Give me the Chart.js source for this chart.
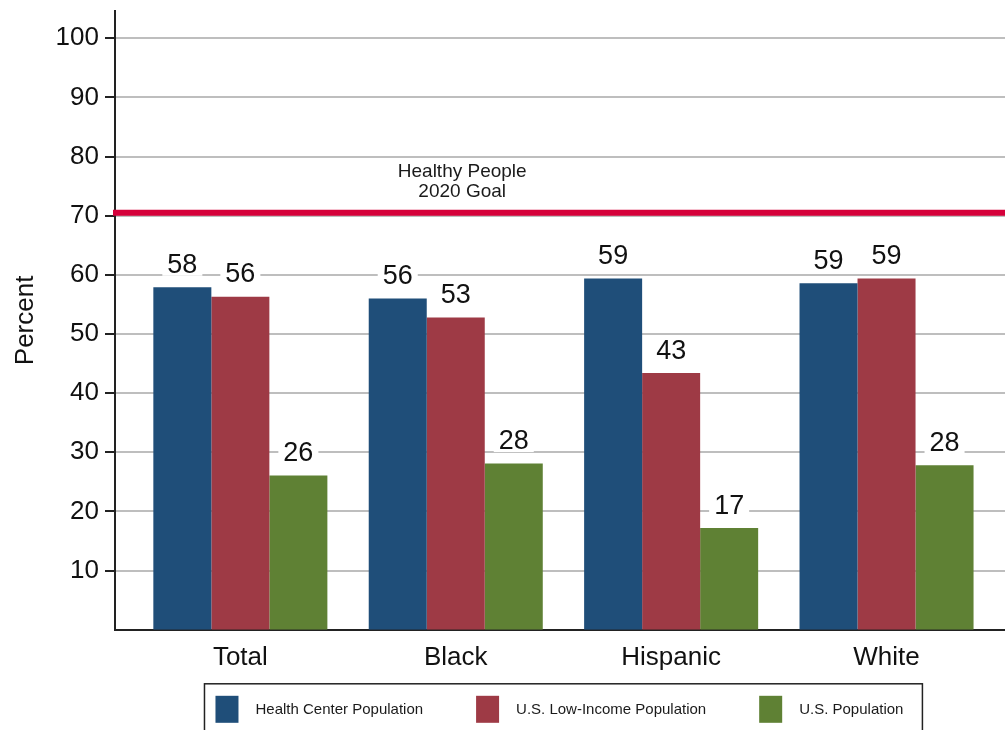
<!DOCTYPE html>
<html>
<head>
<meta charset="utf-8">
<script src="https://cdn.jsdelivr.net/npm/chart.js@4.4.1/dist/chart.umd.min.js"></script>
<style>
  html, body { margin: 0; padding: 0; background: #fff; overflow: hidden; }
</style>
</head>
<body>
<canvas id="chart" width="1005" height="730"></canvas>
<script>
// data
const categories = ['Total', 'Black', 'Hispanic', 'White'];
const seriesNames = ['Health Center Population', 'U.S. Low-Income Population', 'U.S. Population'];
const healthCenter = [57.9, 56.0, 59.4, 58.6];
const lowIncome = [56.3, 52.8, 43.4, 59.4];
const usPopulation = [26.1, 28.1, 17.2, 27.8];
const yTicks = [10, 20, 30, 40, 50, 60, 70, 80, 90, 100];
const goalValue = 70.5;
const goalText = ['Healthy People', '2020 Goal'];

const colors = ['#1f4e79', '#9e3a45', '#5f8134'];
const fontFamily = "'Liberation Sans', Arial, sans-serif";
Chart.defaults.font.family = fontFamily;

// goal line + label, value labels above the bars
const overlays = {
  id: 'overlays',
  afterDatasetsDraw(chart) {
    const ctx = chart.ctx;
    const area = chart.chartArea;
    const x = chart.scales.x;
    const y = chart.scales.y;

    ctx.save();
    const gy = y.getPixelForValue(goalValue);
    ctx.strokeStyle = '#d5003a';
    ctx.lineWidth = 6;
    ctx.beginPath();
    ctx.moveTo(area.left - 2, gy);
    ctx.lineTo(area.right, gy);
    ctx.stroke();

    ctx.fillStyle = '#1a1a1a';
    ctx.font = '19px ' + fontFamily;
    ctx.textAlign = 'center';
    ctx.textBaseline = 'alphabetic';
    const gx = x.getPixelForValue(1.03);
    ctx.fillText(goalText[0], gx, gy - 36);
    ctx.fillText(goalText[1], gx, gy - 16);

    ctx.font = '27px ' + fontFamily;
    chart.data.datasets.forEach((ds, di) => {
      const meta = chart.getDatasetMeta(di);
      meta.data.forEach((bar, i) => {
        const txt = String(Math.round(ds.data[i].y));
        const base = bar.y - 14.5;
        const w = ctx.measureText(txt).width;
        ctx.fillStyle = '#fff';
        ctx.fillRect(bar.x - w / 2 - 5, base - 22, w + 10, 25);
        ctx.fillStyle = '#111';
        ctx.fillText(txt, bar.x, base);
      });
    });
    ctx.restore();
  },
  afterDraw(chart) {
    // boxed legend under the axis
    const ctx = chart.ctx;
    const area = chart.chartArea;
    ctx.save();
    ctx.font = '15px ' + fontFamily;
    const widths = seriesNames.map(n => ctx.measureText(n).width);
    let total = 11 + 19;
    widths.forEach(w => { total += 23 + 17 + w; });
    total += 53 * (seriesNames.length - 1);
    const cx = chart.scales.x.getPixelForValue(1.5);
    const left = cx - total / 2;
    const top = area.bottom + 54;

    ctx.strokeStyle = '#222';
    ctx.lineWidth = 1.5;
    ctx.strokeRect(left, top, total, chart.height - top + 20);

    let px = left + 11;
    ctx.textBaseline = 'middle';
    ctx.textAlign = 'left';
    seriesNames.forEach((name, i) => {
      ctx.fillStyle = colors[i];
      ctx.fillRect(px, top + 12, 23, 27);
      ctx.fillStyle = '#1a1a1a';
      ctx.fillText(name, px + 23 + 17, top + 26);
      px += 23 + 17 + widths[i] + 53;
    });
    ctx.restore();
  }
};

const toPoints = arr => arr.map((v, i) => ({ x: i, y: v }));

new Chart(document.getElementById('chart'), {
  type: 'bar',
  data: {
    datasets: [
      { label: seriesNames[0], data: toPoints(healthCenter), backgroundColor: colors[0] },
      { label: seriesNames[1], data: toPoints(lowIncome), backgroundColor: colors[1] },
      { label: seriesNames[2], data: toPoints(usPopulation), backgroundColor: colors[2] }
    ]
  },
  options: {
    responsive: false,
    animation: false,
    categoryPercentage: 0.808,
    barPercentage: 1.0,
    layout: { padding: { top: 11, right: 0, bottom: 45, left: 0 } },
    plugins: {
      legend: { display: false },
      tooltip: { enabled: false }
    },
    scales: {
      x: {
        type: 'linear',
        offset: false,
        min: -0.582,
        max: 3.55,
        afterBuildTicks: scale => {
          scale.ticks = categories.map((c, i) => ({ value: i }));
        },
        ticks: {
          autoSkip: false,
          maxRotation: 0,
          padding: 12,
          color: '#111',
          font: { size: 26 },
          callback: v => categories[v] ?? ''
        },
        grid: { display: false, drawTicks: false },
        border: { display: true, color: '#222', width: 2 }
      },
      y: {
        min: 0,
        max: 104.6,
        afterBuildTicks: scale => {
          scale.ticks = yTicks.map(v => ({ value: v }));
        },
        afterFit: scale => {
          scale.width = 115;
          scale.paddingTop = 0;
          scale.paddingBottom = 0;
        },
        ticks: {
          padding: 6,
          color: '#111',
          font: { size: 26 }
        },
        grid: { color: '#bebebe', lineWidth: 2, tickColor: '#222', tickLength: 10 },
        border: { display: true, color: '#222', width: 2 },
        title: {
          display: true,
          text: 'Percent',
          color: '#111',
          font: { size: 26 },
          padding: 10
        }
      }
    }
  },
  plugins: [overlays]
});
</script>
</body>
</html>
